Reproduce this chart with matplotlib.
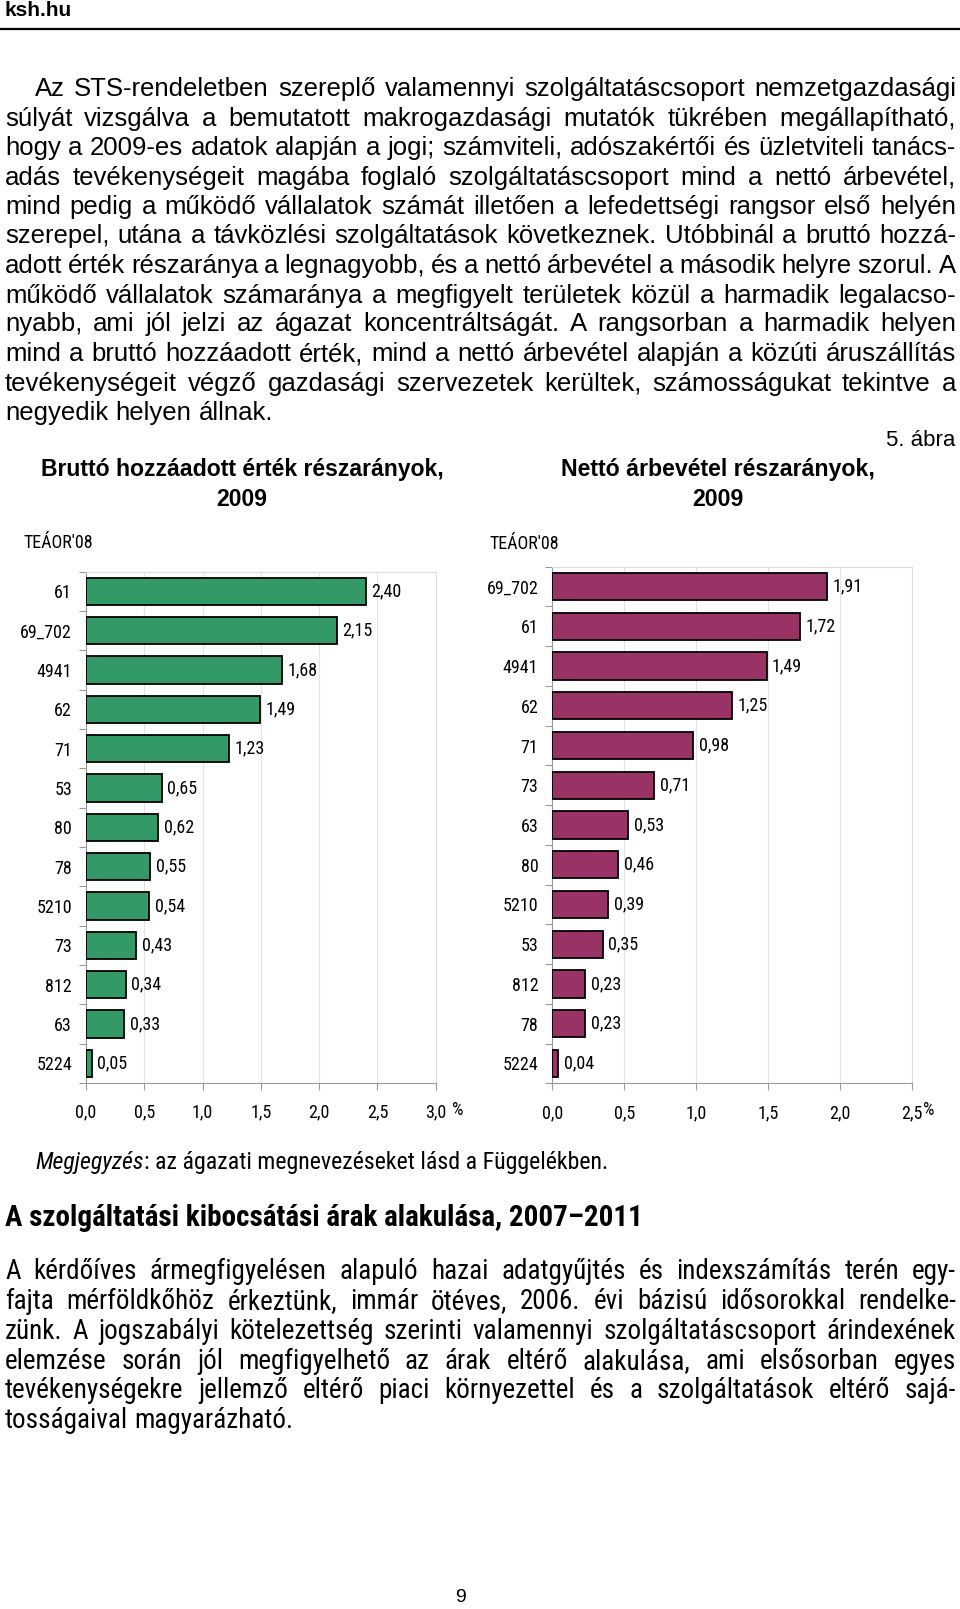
import numpy as np
import matplotlib
matplotlib.use("Agg")
import matplotlib.pyplot as plt
from matplotlib import font_manager as fm
from matplotlib.ticker import FuncFormatter

# --- data ---
cats_left = ["61", "69_702", "4941", "62", "71", "53", "80", "78", "5210", "73", "812", "63", "5224"]
vals_left = [2.40, 2.15, 1.68, 1.49, 1.23, 0.65, 0.62, 0.55, 0.54, 0.43, 0.34, 0.33, 0.05]

cats_right = ["69_702", "61", "4941", "62", "71", "73", "63", "80", "5210", "53", "812", "78", "5224"]
vals_right = [1.91, 1.72, 1.49, 1.25, 0.98, 0.71, 0.53, 0.46, 0.39, 0.35, 0.23, 0.23, 0.04]

para1 = [
    "Az STS-rendeletben szereplő valamennyi szolgáltatáscsoport nemzetgazdasági",
    "súlyát vizsgálva a bemutatott makrogazdasági mutatók tükrében megállapítható,",
    "hogy a 2009-es adatok alapján a jogi; számviteli, adószakértői és üzletviteli tanács-",
    "adás tevékenységeit magába foglaló szolgáltatáscsoport mind a nettó árbevétel,",
    "mind pedig a működő vállalatok számát illetően a lefedettségi rangsor első helyén",
    "szerepel, utána a távközlési szolgáltatások következnek. Utóbbinál a bruttó hozzá-",
    "adott érték részaránya a legnagyobb, és a nettó árbevétel a második helyre szorul. A",
    "működő vállalatok számaránya a megfigyelt területek közül a harmadik legalacso-",
    "nyabb, ami jól jelzi az ágazat koncentráltságát. A rangsorban a harmadik helyen",
    "mind a bruttó hozzáadott érték, mind a nettó árbevétel alapján a közúti áruszállítás",
    "tevékenységeit végző gazdasági szervezetek kerültek, számosságukat tekintve a",
    "negyedik helyen állnak.",
]
para2 = [
    "A kérdőíves ármegfigyelésen alapuló hazai adatgyűjtés és indexszámítás terén egy-",
    "fajta mérföldkőhöz érkeztünk, immár ötéves, 2006. évi bázisú idősorokkal rendelke-",
    "zünk. A jogszabályi kötelezettség szerinti valamennyi szolgáltatáscsoport árindexének",
    "elemzése során jól megfigyelhető az árak eltérő alakulása, ami elsősorban egyes",
    "tevékenységekre jellemző eltérő piaci környezettel és a szolgáltatások eltérő sajá-",
    "tosságaival magyarázható.",
]

W, H = 960, 1609
REG = ["Liberation Sans", "DejaVu Sans"]

# narrow face for the chart labels, if one is installed
names = {f.name for f in fm.fontManager.ttflist}
NAR, NSTRETCH, NARROW_OK = REG, "normal", False
for cand in ["Liberation Sans Narrow", "Arial Narrow", "Roboto Condensed", "Open Sans Condensed"]:
    if cand in names:
        NAR, NARROW_OK = [cand] + REG, True
        break
else:
    if any(f.name == "DejaVu Sans" and f.stretch == "condensed" for f in fm.fontManager.ttflist):
        NAR, NSTRETCH, NARROW_OK = ["DejaVu Sans"], "condensed", True

LBL = 13 if NARROW_OK else 11.5

fig = plt.figure(figsize=(W / 100, H / 100), dpi=100)
fig.patch.set_facecolor("white")
renderer = fig.canvas.get_renderer()


def fx(x):
    return x / W


def fy(y):
    return 1 - y / H


def width_of(t):
    return t.get_window_extent(renderer=renderer).width


def ntext(x, y, s, **kw):
    return fig.text(x, y, s, family=NAR, fontstretch=NSTRETCH, **kw)


def justify(lines, ys, x0, x1, size, family, stretch="normal", indent=0):
    for k, (line, y) in enumerate(zip(lines, ys)):
        words = line.split()
        fs = size
        while True:
            texts = [fig.text(0, 0, w, fontsize=fs, family=family, fontstretch=stretch,
                              ha="left", va="baseline") for w in words]
            widths = [width_of(t) for t in texts]
            a = fig.text(0, 0, "a a", fontsize=fs, family=family, fontstretch=stretch)
            b = fig.text(0, 0, "aa", fontsize=fs, family=family, fontstretch=stretch)
            space = width_of(a) - width_of(b)
            a.remove()
            b.remove()
            start = x0 + (indent if k == 0 else 0)
            if k == len(lines) - 1:
                gap = space
            else:
                gap = (x1 - start - sum(widths)) / (len(words) - 1)
            if gap >= 0.8 * space or fs < size * 0.85:
                break
            for t in texts:
                t.remove()
            fs -= 0.25
        base = y + size * 100 / 72 * 0.36
        x = start
        for t, w in zip(texts, widths):
            t.set_position((fx(x), fy(base)))
            x += w + gap


# header
fig.text(fx(5), fy(11), "ksh.hu", fontsize=15, fontweight="bold", family=REG, va="center")
fig.add_artist(plt.Line2D([0, 1], [fy(28.5), fy(28.5)], color="black", lw=1.6))

# paragraph 1
ys1 = [87.2, 116.9, 145.6, 175.4, 205.1, 233.8, 263.6, 293.3, 322.0, 351.8, 381.5, 410.3]
justify(para1, ys1, 5, 956, 18.5, REG, indent=30)

fig.text(fx(955), fy(441), "5. ábra", fontsize=16, family=REG, ha="right", va="center")

# titles
for cx, s, target in [(242, "Bruttó hozzáadott érték részarányok,", 405),
                      (718, "Nettó árbevétel részarányok,", 315)]:
    t = fig.text(fx(cx), fy(469.7), s, ha="center", va="center",
                 fontweight="bold", family=REG, fontsize=14)
    fs = 14 * target / width_of(t)
    t.set_fontsize(fs)
    fig.text(fx(cx), fy(499.5), "2009", fontsize=fs, fontweight="bold", family=REG,
             ha="center", va="center")

ntext(fx(23), fy(543), "TEÁOR'08", fontsize=LBL, va="center")
ntext(fx(489), fy(544), "TEÁOR'08", fontsize=LBL, va="center")


def chart(box, cats, vals, color, xmax, pct_x):
    left, top, right, bottom = box
    ax = fig.add_axes([fx(left), fy(bottom), (right - left) / W, (bottom - top) / H])
    n = len(cats)
    pos = np.arange(n)
    ax.barh(pos, vals, height=0.69, color=color, edgecolor="black", linewidth=1.3, zorder=3)
    ax.set_ylim(n - 0.5, -0.5)
    ax.set_xlim(0, xmax)
    ax.set_yticks(pos)
    ax.set_yticklabels(cats, family=NAR, fontstretch=NSTRETCH, fontsize=LBL)
    ax.set_yticks(np.arange(-0.5, n, 1), minor=True)
    ax.tick_params(axis="y", which="major", length=0, pad=10)
    ax.tick_params(axis="y", which="minor", length=5, color="#999999", width=0.8)
    ax.set_xticks(np.arange(0, xmax + 0.01, 0.5))
    ax.xaxis.set_major_formatter(FuncFormatter(lambda v, p: f"{v:.1f}".replace(".", ",")))
    ax.tick_params(axis="x", length=5, color="#999999", width=0.8, pad=10, labelsize=LBL)
    for lab in ax.get_xticklabels():
        lab.set_family(NAR)
        lab.set_fontstretch(NSTRETCH)
    ax.grid(axis="x", color="#e3e3e3", lw=0.8, zorder=0)
    for s in ["left", "bottom"]:
        ax.spines[s].set_color("#999999")
    for s in ["top", "right"]:
        ax.spines[s].set_color("#dddddd")
    for i, v in enumerate(vals):
        ax.annotate(f"{v:.2f}".replace(".", ","), xy=(v, i), xytext=(4, 0),
                    textcoords="offset points", va="center", ha="left",
                    family=NAR, fontstretch=NSTRETCH, fontsize=LBL)
    ntext(fx(pct_x), fy(1110), "%", fontsize=LBL, va="center")
    return ax


chart((86, 571.7, 435.7, 1083), cats_left, vals_left, "#339966", 3.0, 452)
chart((552.3, 566.7, 911.7, 1083.3), cats_right, vals_right, "#993366", 2.5, 923)

# note and heading
n1 = ntext(fx(35), fy(1163), "Megjegyzés", style="italic", fontsize=14, va="center")
n2 = ntext(fx(35), fy(1163), ": az ágazati megnevezéseket lásd a Függelékben.",
           fontsize=14, va="center")
fs = 14 * (612 - 35) / (width_of(n1) + width_of(n2))
n1.set_fontsize(fs)
n2.set_fontsize(fs)
n2.set_x(fx(35 + width_of(n1)))

hd = ntext(fx(5), fy(1217.5), "A szolgáltatási kibocsátási árak alakulása, 2007–2011",
           fontweight="bold", fontsize=16, va="center")
hd.set_fontsize(16 * 638 / width_of(hd))

# paragraph 2
ys2 = [1269.7, 1299.5, 1329.2, 1359.0, 1388.7, 1418.4]
justify(para2, ys2, 5, 956, 19.5 if NARROW_OK else 17.5, NAR, NSTRETCH)

fig.text(fx(461), fy(1598), "9", fontsize=14, family=REG, ha="center", va="center")

fig.savefig("out.png", dpi=100)
